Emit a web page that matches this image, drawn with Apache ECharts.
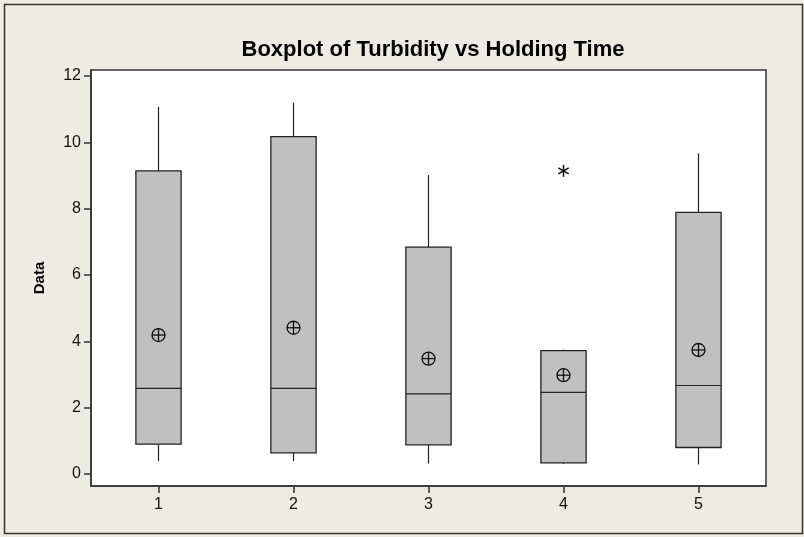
<!DOCTYPE html>
<html>
<head>
<meta charset="utf-8">
<script src="https://cdn.jsdelivr.net/npm/echarts@6/dist/echarts.min.js"></script>
<style>
html,body{margin:0;padding:0;background:#EEEBE2;}
#c{width:804px;height:537px;}
</style>
</head>
<body>
<div id="c"></div>
<script>
// Data
const categories = ['1', '2', '3', '4', '5'];
const whiskerLow  = [0.39, 0.39, 0.32, 0.30, 0.29];
const q1          = [0.90, 0.64, 0.88, 0.34, 0.80];
const median      = [2.58, 2.58, 2.42, 2.46, 2.67];
const q3          = [9.14, 10.17, 6.84, 3.72, 7.89];
const whiskerHigh = [11.07, 11.19, 9.01, 3.75, 9.67];
const means       = [4.19, 4.41, 3.48, 2.98, 3.74];
const outlierCats = ['4'];
const outlierVals = [9.14];
const yTicks = [0, 2, 4, 6, 8, 10, 12];

const FONT = 'Liberation Sans, Arial, sans-serif';
const INK = '#222';

// category i is placed at position i + 1 on the x scale
const xPos = categories.map((c, i) => i + 1);
const boxData = categories.map((c, i) => [xPos[i], whiskerLow[i], q1[i], median[i], q3[i], whiskerHigh[i]]);
const meanData = categories.map((c, i) => [xPos[i], means[i]]);
const outlierData = outlierCats.map((c, i) => [xPos[categories.indexOf(c)], outlierVals[i]]);

function renderBox(params, api) {
  const xv = api.value(0);
  const lo = api.coord([xv, api.value(1)]);
  const p1 = api.coord([xv, api.value(2)]);
  const md = api.coord([xv, api.value(3)]);
  const p3 = api.coord([xv, api.value(4)]);
  const hi = api.coord([xv, api.value(5)]);
  const hw = api.size([1, 0])[0] * 0.335 / 2;
  const x = lo[0];
  const lineStyle = {stroke: INK, lineWidth: 1.2, fill: null};
  return {
    type: 'group',
    children: [
      {type: 'line', shape: {x1: x, y1: hi[1], x2: x, y2: p3[1]}, style: lineStyle},
      {type: 'line', shape: {x1: x, y1: p1[1], x2: x, y2: lo[1]}, style: lineStyle},
      {type: 'rect', shape: {x: x - hw, y: p3[1], width: hw * 2, height: p1[1] - p3[1]},
        style: {fill: '#C0C0C0', stroke: INK, lineWidth: 1.3}},
      {type: 'line', shape: {x1: x - hw, y1: md[1], x2: x + hw, y2: md[1]}, style: lineStyle}
    ]
  };
}

function renderMean(params, api) {
  const p = api.coord([api.value(0), api.value(1)]);
  const r = 6.5;
  const st = {stroke: '#111', lineWidth: 1.3, fill: null};
  return {
    type: 'group',
    children: [
      {type: 'circle', shape: {cx: p[0], cy: p[1], r: r}, style: st},
      {type: 'line', shape: {x1: p[0] - r, y1: p[1], x2: p[0] + r, y2: p[1]}, style: st},
      {type: 'line', shape: {x1: p[0], y1: p[1] - r, x2: p[0], y2: p[1] + r}, style: st}
    ]
  };
}

function renderOutlier(params, api) {
  const p = api.coord([api.value(0), api.value(1)]);
  const r = 6;
  const st = {stroke: '#111', lineWidth: 1.5, fill: null};
  const a = Math.PI / 3;
  const kids = [];
  for (let k = 0; k < 3; k++) {
    const ang = Math.PI / 2 + k * a;
    const dx = Math.cos(ang) * r, dy = Math.sin(ang) * r;
    kids.push({type: 'line', shape: {x1: p[0] - dx, y1: p[1] - dy, x2: p[0] + dx, y2: p[1] + dy}, style: st});
  }
  return {type: 'group', children: kids};
}

const chart = echarts.init(document.getElementById('c'), null, {renderer: 'canvas'});
chart.setOption({
  backgroundColor: '#EEEBE2',
  animation: false,
  title: {
    text: 'Boxplot of Turbidity vs Holding Time',
    left: 428, top: 34, textAlign: 'center',
    textStyle: {fontFamily: FONT, fontWeight: 'bold', fontSize: 22, color: '#000'}
  },
  graphic: [{
    type: 'rect', silent: true,
    shape: {x: 4.5, y: 4.5, width: 798, height: 529},
    style: {fill: null, stroke: '#333', lineWidth: 1.5}
  }],
  grid: {
    left: 91, right: 38, top: 70, bottom: 51,
    show: true, backgroundColor: '#fff', borderColor: '#333', borderWidth: 1.5
  },
  xAxis: {
    type: 'value', min: 0.5, max: 5.5,
    axisLine: {show: true, onZero: false, lineStyle: {color: '#333', width: 1.5}},
    axisTick: {show: true, inside: false, length: 7, customValues: xPos, lineStyle: {color: '#333', width: 1.5}},
    axisLabel: {fontFamily: FONT, fontSize: 16, color: '#111', margin: 11, customValues: xPos,
      formatter: v => categories[Math.round(v) - 1]},
    splitLine: {show: false}
  },
  yAxis: {
    type: 'value', min: -0.36, max: 12.18,
    name: 'Data', nameLocation: 'middle', nameGap: 44, nameRotate: 90,
    nameTextStyle: {fontFamily: FONT, fontWeight: 'bold', fontSize: 15, color: '#000'},
    axisLine: {show: true, onZero: false, lineStyle: {color: '#333', width: 1.5}},
    axisTick: {show: true, inside: false, length: 7, customValues: yTicks, lineStyle: {color: '#333', width: 1.5}},
    axisLabel: {fontFamily: FONT, fontSize: 16, color: '#111', margin: 10, customValues: yTicks},
    splitLine: {show: false}
  },
  series: [
    {type: 'custom', name: 'box', renderItem: renderBox, data: boxData, encode: {x: 0, y: [1, 2, 3, 4, 5]}, z: 2},
    {type: 'custom', name: 'mean', renderItem: renderMean, data: meanData, encode: {x: 0, y: 1}, z: 3},
    {type: 'custom', name: 'outlier', renderItem: renderOutlier, data: outlierData, encode: {x: 0, y: 1}, z: 3}
  ]
});
</script>
</body>
</html>
